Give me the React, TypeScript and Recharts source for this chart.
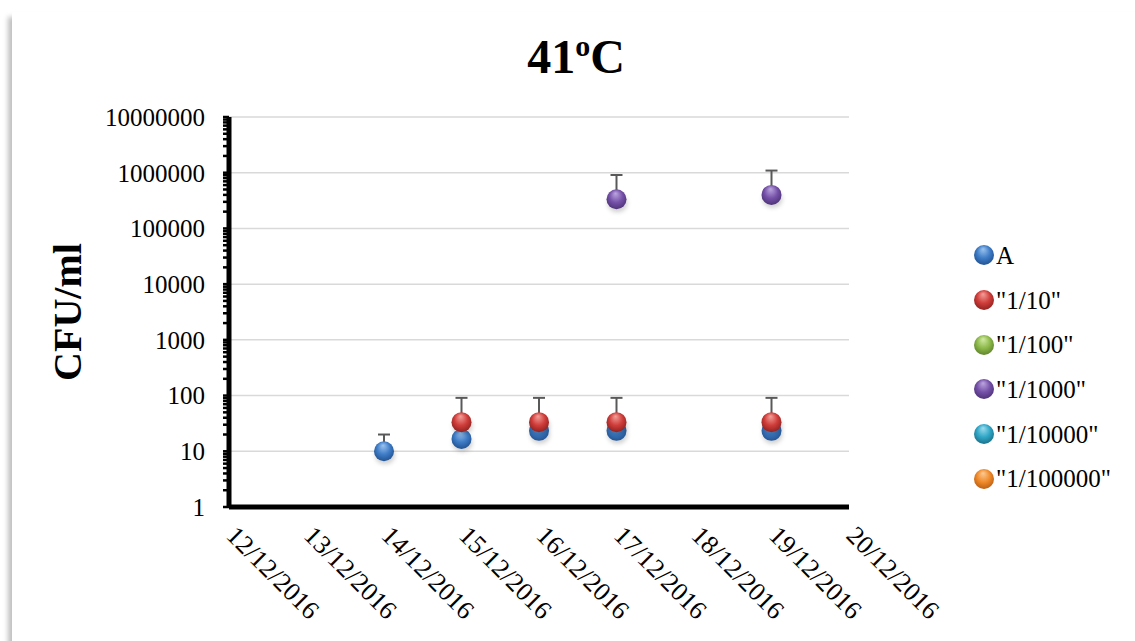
import {
  ScatterChart,
  Scatter,
  XAxis,
  YAxis,
  CartesianGrid,
  ErrorBar,
} from 'recharts'

// dates on the x axis (dd/mm/yyyy)
const tickDates = [
  '12/12/2016', '13/12/2016', '14/12/2016', '15/12/2016', '16/12/2016',
  '17/12/2016', '18/12/2016', '19/12/2016', '20/12/2016',
]

const aDates = ['14/12/2016', '15/12/2016', '16/12/2016', '17/12/2016', '19/12/2016']
const aValues = [10, 16.7, 23.3, 23.3, 23.3]
const aErrors = [10, null, null, null, null]

const d10Dates = ['15/12/2016', '16/12/2016', '17/12/2016', '19/12/2016']
const d10Values = [33.3, 33.3, 33.3, 33.3]
const d10Errors = [57.7, 57.7, 57.7, 57.7]

const d1000Dates = ['17/12/2016', '19/12/2016']
const d1000Values = [333333, 400000]
const d1000Errors = [577350, 692820]

const majorTicks = [1, 10, 100, 1000, 10000, 100000, 1000000, 10000000]
const minorSteps = [1, 2, 3, 4, 5, 6, 7, 8, 9]

const dayOf = (s: string) => Number(s.split('/')[0])

const toPoints = (dates: string[], values: number[], errors: (number | null)[]) =>
  dates.map((d, i) => ({
    day: dayOf(d),
    value: values[i],
    err: errors[i] == null ? null : [0, errors[i]],
  }))

const series = [
  { id: 'blue', name: 'A', base: '#3E7CC6', light: '#9CC4F0', dark: '#1F4E8C', data: toPoints(aDates, aValues, aErrors) },
  { id: 'red', name: '"1/10"', base: '#CF3D3A', light: '#F4A09A', dark: '#8A1F1D', data: toPoints(d10Dates, d10Values, d10Errors) },
  { id: 'green', name: '"1/100"', base: '#8DB94A', light: '#D3EBA6', dark: '#5B7E28', data: [] as any[] },
  { id: 'purple', name: '"1/1000"', base: '#7551A8', light: '#BDA6E0', dark: '#4A2F73', data: toPoints(d1000Dates, d1000Values, d1000Errors) },
  { id: 'aqua', name: '"1/10000"', base: '#2FA6C6', light: '#9EDDEE', dark: '#1A6B82', data: [] as any[] },
  { id: 'orange', name: '"1/100000"', base: '#F08A2A', light: '#FBCB95', dark: '#B45A10', data: [] as any[] },
]

const allTicks = majorTicks.slice(0, -1).flatMap((m) => minorSteps.map((s) => m * s)).concat([10000000])

const FONT = '"Liberation Serif", "Times New Roman", serif'

const sphere = (id: string) => (props: any) => {
  const { cx, cy } = props
  if (cx == null || cy == null) return <g />
  return (
    <g>
      <ellipse cx={cx + 1} cy={cy + 4} rx={10} ry={9} fill="rgba(0,0,0,0.18)" filter="url(#soft)" />
      <circle cx={cx} cy={cy} r={10} fill={`url(#g-${id})`} />
    </g>
  )
}

const YTick = (props: any) => {
  const { x, y, payload } = props
  if (!majorTicks.includes(payload.value)) return <g />
  return (
    <text x={x} y={y} dy="0.355em" textAnchor="end" fontFamily={FONT} fontSize={25} fill="#000">
      {payload.value}
    </text>
  )
}

const XTick = (props: any) => {
  const { x, y, payload } = props
  const label = tickDates.find((d) => dayOf(d) === payload.value) ?? ''
  const px = x - 4
  const py = y + 30
  return (
    <text x={px} y={py} transform={`rotate(45, ${px}, ${py})`} textAnchor="start" fontFamily={FONT} fontSize={26} fill="#000">
      {label}
    </text>
  )
}

export default function App() {
  return (
    <div style={{ position: 'absolute', left: 0, top: 0, width: 1135, height: 641, background: '#fff', overflow: 'hidden' }}>
      <div
        style={{
          position: 'absolute', left: 12, top: 12, width: 1140, height: 660,
          background: '#fff', boxShadow: '-4px 5px 5px rgba(0,0,0,0.25)',
        }}
      />
      <div style={{ position: 'absolute', left: 0, top: 0 }}>
        <ScatterChart width={1135} height={641} margin={{ top: 117, right: 286, bottom: 0, left: 0 }}>
          <defs>
            {series.map((s) => (
              <radialGradient key={s.id} id={`g-${s.id}`} cx="50%" cy="45%" r="60%" fx="45%" fy="20%">
                <stop offset="0%" stopColor={s.light} />
                <stop offset="55%" stopColor={s.base} />
                <stop offset="100%" stopColor={s.dark} />
              </radialGradient>
            ))}
            <filter id="soft" x="-50%" y="-50%" width="200%" height="200%">
              <feGaussianBlur stdDeviation="2" />
            </filter>
          </defs>
          <CartesianGrid horizontal vertical={false} stroke="#d9d9d9" strokeWidth={1.5} horizontalValues={majorTicks} />
          <XAxis
            dataKey="day"
            type="number"
            domain={[12, 20]}
            ticks={tickDates.map(dayOf)}
            interval={0}
            height={134}
            tick={<XTick />}
            tickLine={false}
            tickSize={0}
            tickMargin={0}
            axisLine={{ stroke: '#000', strokeWidth: 5 }}
          />
          <YAxis
            dataKey="value"
            type="number"
            scale="log"
            domain={[1, 10000000]}
            allowDataOverflow
            ticks={allTicks}
            interval={0}
            width={229}
            tick={<YTick />}
            tickLine={{ stroke: '#000', strokeWidth: 2.5 }}
            tickSize={6}
            tickMargin={18}
            axisLine={{ stroke: '#000', strokeWidth: 5 }}
            label={{
              value: 'CFU/ml', angle: -90, position: 'insideLeft', offset: 0,
              style: { fontFamily: FONT, fontSize: 40, fontWeight: 'bold', fill: '#000', textAnchor: 'middle' },
              dx: 67,
            }}
          />
          {series.map((s) => (
            <Scatter
              key={s.id}
              name={s.name}
              data={s.data}
              fill={s.base}
              shape={sphere(s.id)}
              isAnimationActive={false}
            >
              <ErrorBar dataKey="err" direction="y" width={6} stroke="#595959" strokeWidth={2} />
            </Scatter>
          ))}
          <text x={576} y={73} textAnchor="middle" fontFamily={FONT} fontSize={48} fontWeight="bold" fill="#000">
            41<tspan fontSize={30} dy={-17}>o</tspan><tspan dy={17}>C</tspan>
          </text>
        </ScatterChart>
      </div>
      <div style={{ position: 'absolute', left: 973, top: 233 }}>
        {series.map((s) => (
          <div key={s.id} style={{ height: 44.7, display: 'flex', alignItems: 'center' }}>
            <svg width={22} height={22}>
              <defs>
                <radialGradient id={`lg-${s.id}`} cx="50%" cy="45%" r="60%" fx="45%" fy="20%">
                  <stop offset="0%" stopColor={s.light} />
                  <stop offset="55%" stopColor={s.base} />
                  <stop offset="100%" stopColor={s.dark} />
                </radialGradient>
              </defs>
              <circle cx={11} cy={11} r={10} fill={`url(#lg-${s.id})`} />
            </svg>
            <span style={{ fontFamily: FONT, fontSize: 25, color: '#000', lineHeight: 1, marginLeft: 1 }}>{s.name}</span>
          </div>
        ))}
      </div>
    </div>
  )
}
